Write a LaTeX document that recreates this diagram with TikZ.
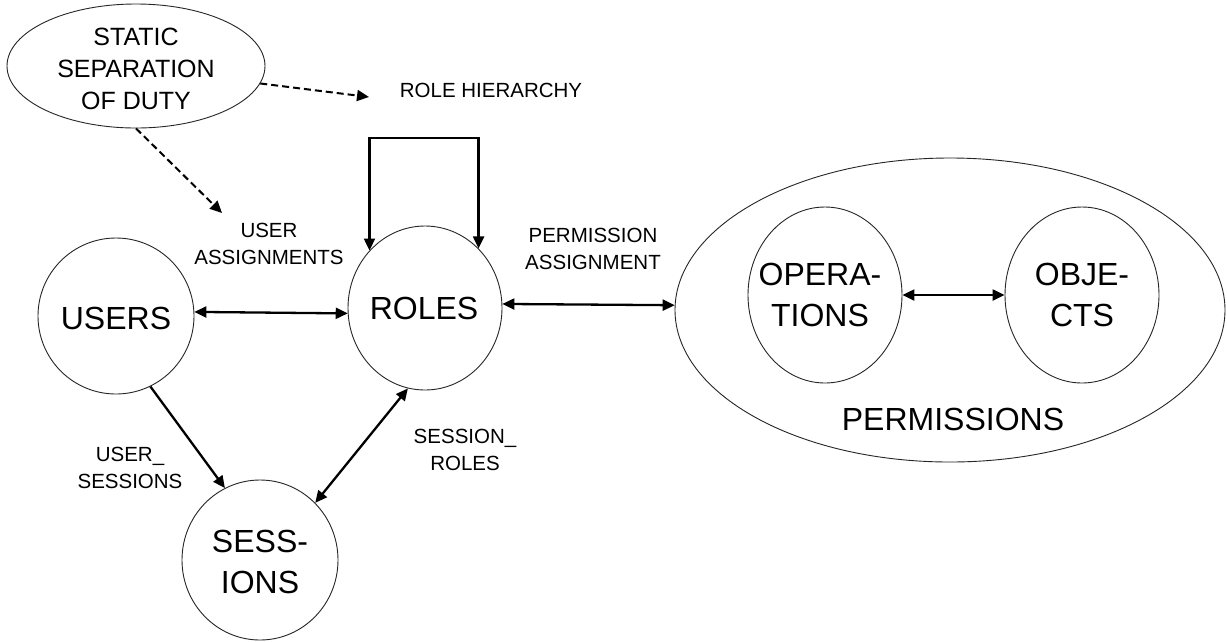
\documentclass[tikz,border=0pt]{standalone}
\usepackage{fontspec}
\setmainfont{Liberation Sans}
\usetikzlibrary{shapes.geometric,arrows.meta}
\begin{document}
\begin{tikzpicture}[x=1pt,y=-1pt,
  outline/.style={draw=black!85, line width=0.9pt, ellipse, inner sep=0pt},
  big/.style={font=\fontsize{32}{41}\selectfont, align=center, inner sep=0pt},
  mid/.style={font=\fontsize{25}{32}\selectfont, align=center, inner sep=0pt},
  small/.style={font=\fontsize{20.5}{26.5}\selectfont, align=center, inner sep=0pt},
  tip/.tip={Triangle[length=12pt,width=11pt]},
  link/.style={line width=2.3pt, -tip},
  twoway/.style={line width=2.3pt, tip-tip},
  dasharrow/.style={line width=2pt, dash pattern=on 7pt off 4pt, -tip},
]
\useasboundingbox (0,0) rectangle (1227,641);
\fill[white] (0,0) rectangle (1227,641);

% constraint bubble
\node[outline, minimum width=258pt, minimum height=124pt] (ssd) at (136,66) {};
\node[mid] (ssdtext) at (136,69) {STATIC\\SEPARATION\\OF DUTY};

% main entities
\node[outline, minimum width=156pt, minimum height=156pt] (users) at (116,316) {};
\node[big] (userstext) at (116,318) {USERS};
\node[outline, minimum width=154pt, minimum height=164pt] (roles) at (425,308) {};
\node[big] (rolestext) at (424,308) {ROLES};
\node[outline, minimum width=156pt, minimum height=160pt] (sessions) at (260,560) {};
\node[big] (sessionstext) at (260,562) {SESS-\\IONS};

% permissions group
\node[outline, minimum width=550pt, minimum height=304pt] (perm) at (950,310) {};
\node[outline, minimum width=154pt, minimum height=176pt] (ops) at (825,295) {};
\node[big] (opstext) at (820,295) {OPERA-\\TIONS};
\node[outline, minimum width=154pt, minimum height=176pt] (objs) at (1082,295) {};
\node[big] (objstext) at (1082,295) {OBJE-\\CTS};
\node[big] (permtext) at (953,419) {PERMISSIONS};

% relation labels
\node[small] (rh) at (491,90) {ROLE HIERARCHY};
\node[small] (ua) at (269,244) {USER\\ASSIGNMENTS};
\node[small] (pa) at (593,249) {PERMISSION\\ASSIGNMENT};
\node[small] (us) at (130,468) {USER\_\\SESSIONS};
\node[small] (sr) at (465,450) {SESSION\_\\ROLES};

% free ends of the constraint arrows and the top of the hierarchy loop
\coordinate (rhend) at (369,97);
\coordinate (uaend) at (222,213);
\coordinate (looptop) at (424,138);

% connectors
\draw[dasharrow] (ssd.-8) -- (rhend);
\draw[dasharrow] (ssd.south) -- (uaend);
\draw[twoway] (roles.134) |- (looptop) -| (roles.48);
\draw[twoway] (users.3) -- (roles.184);
\draw[twoway] (roles.3) -- (perm.179);
\draw[twoway] (ops) -- (objs);
\draw[link] (users.-64) -- (sessions.116);
\draw[twoway] (roles.-102) -- (sessions.46);
\end{tikzpicture}
\end{document}
